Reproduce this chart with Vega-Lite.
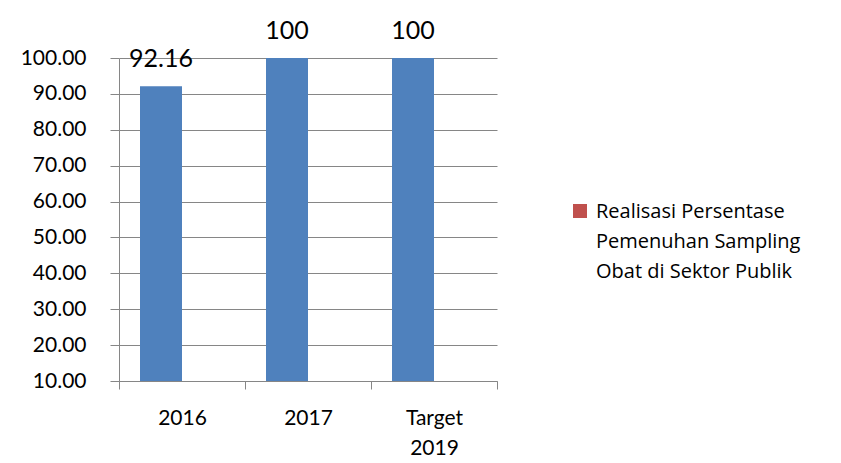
{
  "$schema": "https://vega.github.io/schema/vega-lite/v6.json",
  "autosize": "none",
  "width": 378,
  "height": 323,
  "padding": {"left": 119, "top": 58, "right": 344, "bottom": 82},
  "background": "white",
  "data": {
    "values": [
      {"cat": "2016", "series": "Realisasi", "value": 92.16, "label": "92.16"},
      {"cat": "2017", "series": "Realisasi", "value": 100, "label": "100"},
      {"cat": "Target 2019", "series": "Realisasi", "value": 100, "label": "100"}
    ]
  },
  "encoding": {
    "x": {
      "field": "cat",
      "type": "nominal",
      "sort": null,
      "scale": {"paddingInner": 0, "paddingOuter": 0},
      "axis": {
        "title": null,
        "labelAngle": 0,
        "tickBand": "extent",
        "tickSize": 8,
        "labelPadding": 18,
        "labelLineHeight": 30,
        "labelExpr": "datum.label == 'Target 2019' ? ['Target', '2019'] : datum.label",
        "grid": false
      }
    },
    "xOffset": {
      "field": "series",
      "type": "nominal",
      "scale": {"domain": ["Realisasi", "Kosong"], "paddingOuter": 0.5, "paddingInner": 0}
    },
    "y": {
      "field": "value",
      "type": "quantitative",
      "scale": {"domain": [10, 100], "zero": false, "nice": false},
      "axis": {
        "title": null,
        "values": [10, 20, 30, 40, 50, 60, 70, 80, 90, 100],
        "format": ".2f",
        "tickSize": 9,
        "labelPadding": 24,
        "labelOverlap": false,
        "grid": true
      }
    }
  },
  "layer": [
    {
      "mark": {"type": "bar", "color": "#4F81BD"},
      "encoding": {
        "y2": {"datum": 10}
      }
    },
    {
      "mark": {"type": "text", "fontSize": 25, "baseline": "alphabetic", "dy": -19, "font": "Lato", "color": "black"},
      "encoding": {
        "text": {"field": "label"}
      }
    },
    {
      "mark": {"type": "text", "text": ""},
      "encoding": {
        "color": {
          "datum": "Realisasi Persentase Pemenuhan Sampling Obat di Sektor Publik",
          "type": "nominal",
          "scale": {"range": ["#C0504D"]},
          "legend": {
            "title": null,
            "orient": "none",
            "legendX": 451,
            "legendY": 143,
            "padding": 0,
            "symbolType": "square",
            "symbolSize": 196,
            "symbolOffset": 0,
            "symbolStrokeWidth": 0,
            "labelOffset": 6,
            "labelLimit": 0,
            "labelFont": "Open Sans",
            "labelFontSize": 20,
            "labelExpr": "['Realisasi Persentase', 'Pemenuhan Sampling', 'Obat di Sektor Publik']",
            "labelBaseline": "top",
            "encode": {
              "labels": {"update": {"lineHeight": {"value": 30}, "dy": {"value": -9}}}
            }
          }
        }
      }
    }
  ],
  "config": {
    "font": "Lato",
    "view": {"stroke": null},
    "axis": {
      "labelFont": "Lato",
      "labelFontSize": 21,
      "labelColor": "black",
      "domainColor": "#868686",
      "tickColor": "#868686",
      "gridColor": "#868686",
      "domainWidth": 1,
      "tickWidth": 1,
      "gridWidth": 1
    },
    "legend": {"labelColor": "black"}
  }
}
